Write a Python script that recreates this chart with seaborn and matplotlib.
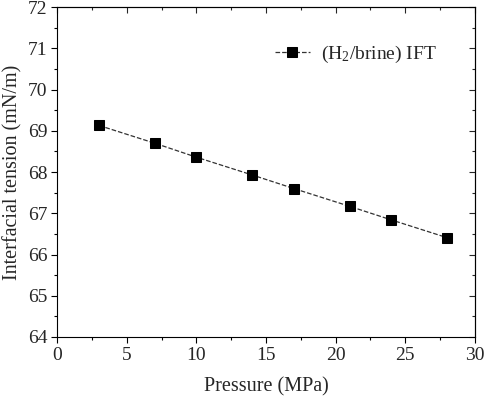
import numpy as np
import pandas as pd
import matplotlib
matplotlib.use("Agg")
import matplotlib.pyplot as plt
from matplotlib.ticker import MultipleLocator, NullFormatter
import seaborn as sns

pressure = [3, 7, 10, 14, 17, 21, 24, 28]
ift = [69.13, 68.70, 68.36, 67.93, 67.60, 67.17, 66.84, 66.41]
series_label = "(H$_2$/brine) IFT"

sns.set_style("ticks")
plt.rcParams['font.family'] = ['Liberation Serif', 'DejaVu Serif']
plt.rcParams['mathtext.fontset'] = 'custom'
plt.rcParams['mathtext.rm'] = 'Liberation Serif'
plt.rcParams['mathtext.default'] = 'regular'

df = pd.DataFrame({"Pressure": pressure, "IFT": ift})

fig = plt.figure(figsize=(4.84, 3.96), dpi=100)
ax = fig.add_axes([0.1184, 0.149, 0.8626, 0.833])

sns.lineplot(data=df, x="Pressure", y="IFT", ax=ax, color="#333333",
             linestyle="--", linewidth=0.9, marker="s", markersize=7,
             markerfacecolor="black", markeredgecolor="black",
             label=series_label)

ax.set_xlim(0, 30)
ax.set_ylim(64, 72)
ax.xaxis.set_major_locator(MultipleLocator(5))
ax.xaxis.set_minor_locator(MultipleLocator(2.5))
ax.yaxis.set_major_locator(MultipleLocator(1))
ax.yaxis.set_minor_locator(MultipleLocator(0.5))
ax.tick_params(which='major', direction='out', length=4, width=0.8, labelsize=14, color='black', pad=3)
ax.tick_params(which='minor', direction='out', length=2.5, width=0.8, color='black')

# mirrored inward ticks on top/right
top = ax.secondary_xaxis('top')
top.xaxis.set_major_locator(MultipleLocator(5))
top.xaxis.set_minor_locator(MultipleLocator(2.5))
top.xaxis.set_major_formatter(NullFormatter())
top.tick_params(which='major', direction='in', length=4, width=0.8)
top.tick_params(which='minor', direction='in', length=2.5, width=0.8)
right = ax.secondary_yaxis('right')
right.yaxis.set_major_locator(MultipleLocator(1))
right.yaxis.set_minor_locator(MultipleLocator(0.5))
right.yaxis.set_major_formatter(NullFormatter())
right.tick_params(which='major', direction='in', length=4, width=0.8)
right.tick_params(which='minor', direction='in', length=2.5, width=0.8)

for s in ax.spines.values():
    s.set_visible(True)
    s.set_linewidth(0.8)
    s.set_color('black')

ax.set_xlabel("Pressure (MPa)", fontsize=14.5, labelpad=10)
ax.set_ylabel("Interfacial tension (mN/m)", fontsize=14.5, labelpad=4)

ax.legend(loc='center left', bbox_to_anchor=(0.521, 0.858), frameon=False,
          fontsize=14, handlelength=1.8, handletextpad=0.6,
          borderpad=0, borderaxespad=0)

fig.savefig("out.png", dpi=100)
